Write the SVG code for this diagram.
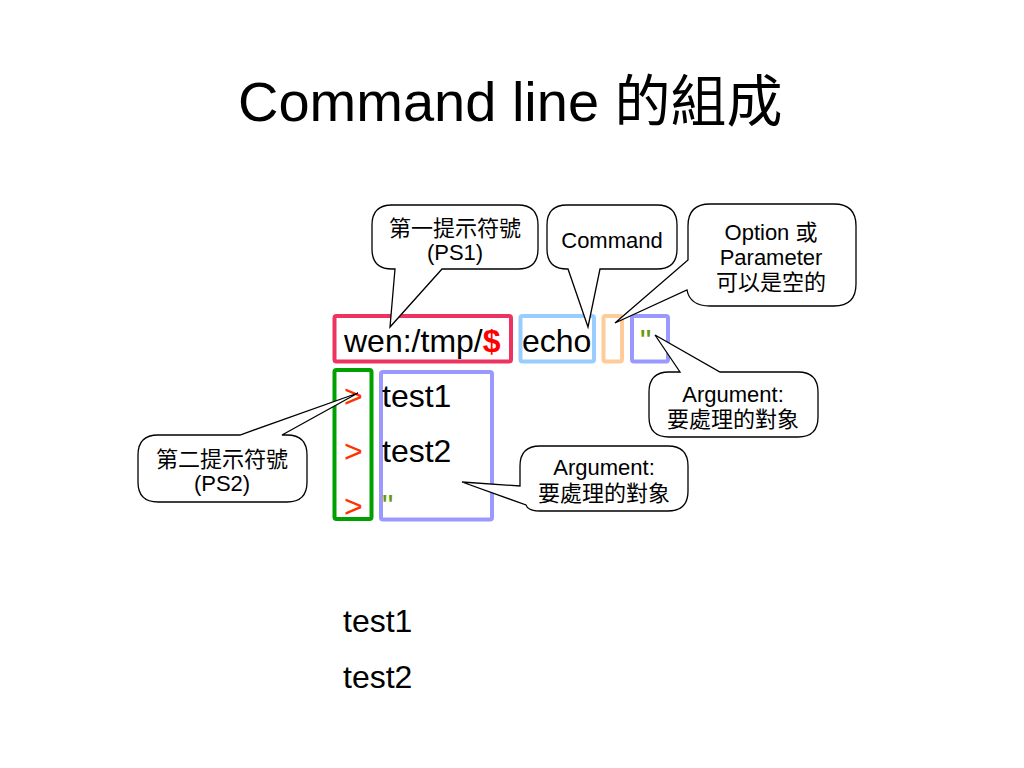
<svg xmlns="http://www.w3.org/2000/svg" width="1024" height="768" viewBox="0 0 1024 768">
<style>
text{font-family:"Liberation Sans","Noto Sans CJK TC",sans-serif;fill:#000}
.title{font-size:56px}
.mono{font-size:32px}
.lbl{font-size:22px;text-anchor:middle}
.bub{fill:#fff;stroke:#000;stroke-width:1.3;stroke-linejoin:miter}
.box{fill:none;stroke-width:4}
.gt{fill:#ff3300}
.q{fill:#669900}
</style>
<rect width="1024" height="768" fill="#fff"/>
<text class="title" x="238" y="121">Command line 的組成</text>

<g id="boxes">
<rect id="ps1-box" class="box" x="334.5" y="316" width="176.5" height="45.5" rx="2" stroke="#ee3360"/>
<rect id="cmd-box" class="box" x="520.5" y="316" width="73.5" height="45.5" rx="2" stroke="#99ccff"/>
<rect id="opt-box" class="box" x="603.5" y="316" width="18.5" height="45.5" rx="2" stroke="#ffcc99"/>
<rect id="arg-box" class="box" x="632" y="316" width="36" height="45.5" rx="2" stroke="#9999ff"/>
<rect id="ps2-box" class="box" x="334.5" y="370" width="37" height="149" rx="2" stroke="#00a000"/>
<rect id="arg2-box" class="box" x="381" y="372" width="111" height="147.5" rx="2" stroke="#9999ff"/>
</g>

<g id="terminal">
<text class="mono" x="344" y="352">wen:/tmp/<tspan fill="#ff0000" font-weight="bold">$</tspan></text>
<text class="mono" x="522" y="352">echo</text>
<text class="mono q" x="640" y="352">"</text>
<text class="mono gt" x="344" y="407">&gt;</text>
<text class="mono gt" x="344" y="462">&gt;</text>
<text class="mono gt" x="344" y="517">&gt;</text>
<text class="mono" x="382" y="407">test1</text>
<text class="mono" x="382" y="462">test2</text>
<text class="mono q" x="382" y="517">"</text>
</g>

<g id="output">
<text class="mono" x="343" y="632">test1</text>
<text class="mono" x="343" y="688">test2</text>
</g>

<g id="callout-ps1">
<path class="bub" d="M390,205 H518 Q538,205 538,225 V249 Q538,269 518,269 H442 L390,327 L395,269 H392 Q372,269 372,249 V225 Q372,205 392,205 Z"/>
<text class="lbl" x="455" y="236">第一提示符號</text>
<text class="lbl" x="455" y="260">(PS1)</text>
</g>

<g id="callout-command">
<path class="bub" d="M567,205 H657 Q677,205 677,225 V249 Q677,269 657,269 H600 L588,327 L568,269 H567 Q547,269 547,249 V225 Q547,205 567,205 Z"/>
<text class="lbl" x="612" y="248">Command</text>
</g>

<g id="callout-option">
<path class="bub" d="M710,204 H834 Q856,204 856,226 V284 Q856,306 834,306 H710 Q690,306 687,290 L615,323 L688,260 V226 Q688,204 710,204 Z"/>
<text class="lbl" x="771" y="240">Option 或</text>
<text class="lbl" x="771" y="265">Parameter</text>
<text class="lbl" x="771" y="290">可以是空的</text>
</g>

<g id="callout-arg1">
<path class="bub" d="M669,372 H680 L655,335 L720,372 H798 Q818,372 818,392 V417 Q818,437 798,437 H669 Q649,437 649,417 V392 Q649,372 669,372 Z"/>
<text class="lbl" x="733" y="402">Argument:</text>
<text class="lbl" x="733" y="427">要處理的對象</text>
</g>

<g id="callout-arg2">
<path class="bub" d="M540,446 H668 Q688,446 688,466 V491 Q688,511 668,511 H540 Q528,511 526,505 L462,482 L520,486 V466 Q520,446 540,446 Z"/>
<text class="lbl" x="604" y="475">Argument:</text>
<text class="lbl" x="604" y="501">要處理的對象</text>
</g>

<g id="callout-ps2">
<path class="bub" d="M158,435 H240 L358,393 L282,435 H287 Q307,435 307,455 V482 Q307,502 287,502 H158 Q138,502 138,482 V455 Q138,435 158,435 Z"/>
<text class="lbl" x="222" y="467">第二提示符號</text>
<text class="lbl" x="222" y="491">(PS2)</text>
</g>
</svg>
